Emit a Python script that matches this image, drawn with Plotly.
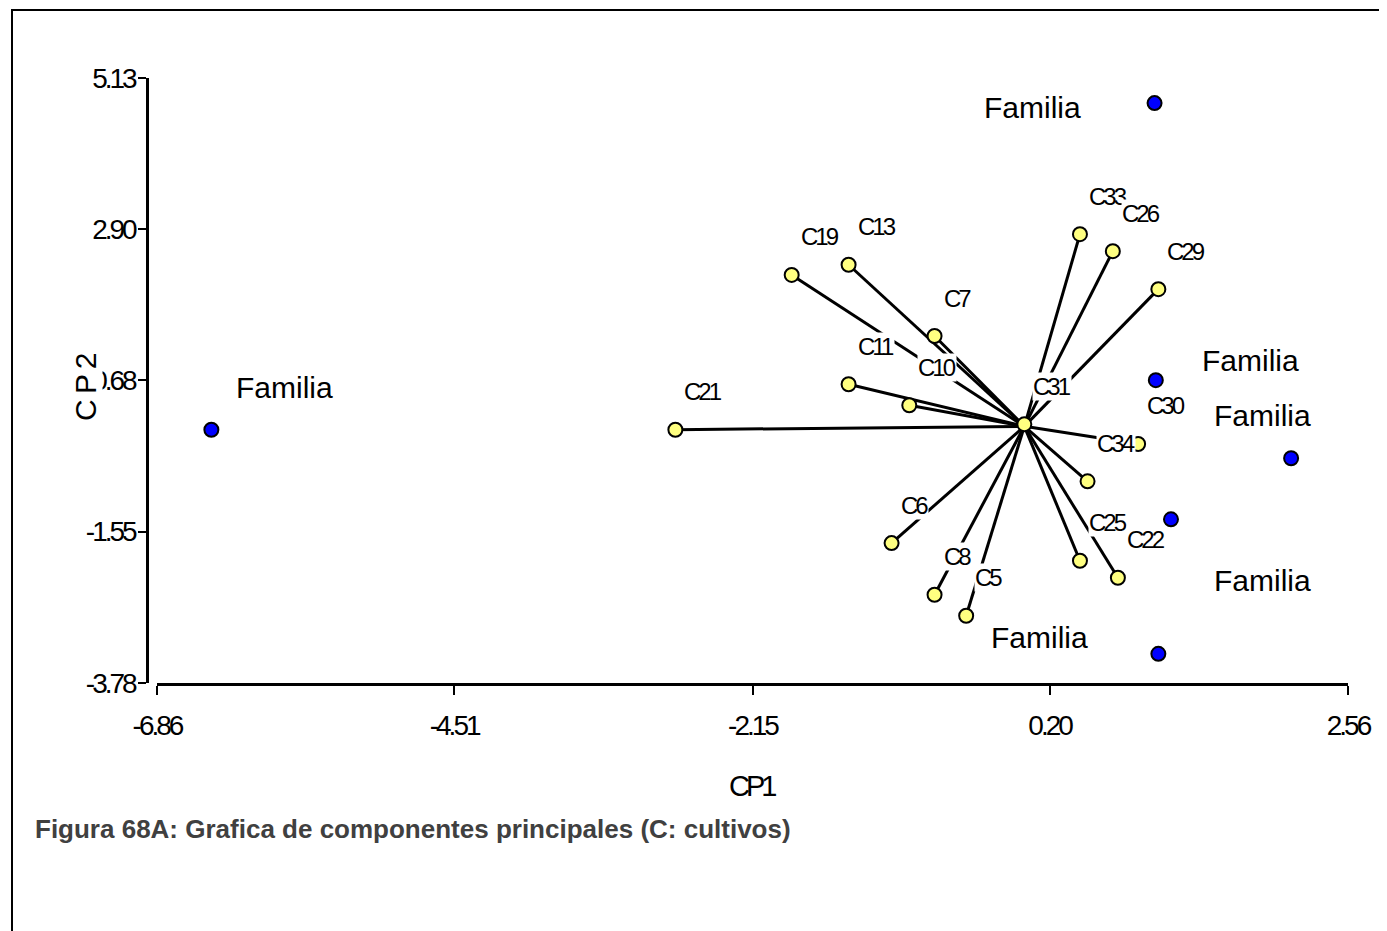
import plotly.graph_objects as go

# ---- data ----
cult_names = ["C21", "C19", "C13", "C7", "C11", "C10", "C31", "C33", "C26", "C29",
              "C30", "C34", "C25", "C22", "C6", "C8", "C5"]
cult_cp1 = [-2.76, -1.84, -1.39, -0.71, -1.39, -0.91, 0.00, 0.44, 0.70, 1.06,
            0.90, 0.50, 0.44, 0.74, -1.05, -0.71, -0.46]
cult_cp2 = [-0.05, 2.23, 2.38, 1.33, 0.62, 0.31, 0.03, 2.83, 2.58, 2.02,
            -0.26, -0.81, -1.98, -2.23, -1.72, -2.48, -2.79]

fam_names = ["Familia", "Familia", "Familia", "Familia", "Familia", "Familia"]
fam_cp1 = [-6.43, 1.03, 1.04, 2.11, 1.16, 1.06]
fam_cp2 = [-0.05, 4.76, 0.68, -0.47, -1.37, -3.35]

x_ticks = [-6.86, -4.51, -2.15, 0.20, 2.56]
y_ticks = [-3.78, -1.55, 0.68, 2.90, 5.13]

# ---- label placement (pixel shifts) ----
fam_label_shift = [(24, 42), (-172, -4), (45, 20), (-78, 43), (42, -61), (-168, 16)]
cult_label_shift = (8, 38)

# page has an 8px body margin; figure is sized so the plot lands where the reference has it
OFF = 8
W, H = 1387 - OFF, 931 - OFF
ML, MR, MT, MB = 147 - OFF, 39, 78 - OFF, 248
PW = W - ML - MR
PH = H - MT - MB


def px(x):  # reference page pixel -> paper fraction
    return (x - OFF - ML) / PW


def py(y):
    return (H - MB - (y - OFF)) / PH


def narrow(t, ls):
    # tighter letter spacing to mimic the condensed font of the original
    return f'<span style="letter-spacing:{ls}px">{t}</span>'


ARIAL = "Liberation Sans, Arial, sans-serif"

fig = go.Figure()

# vectors from origin
lx, ly = [], []
for x, y in zip(cult_cp1, cult_cp2):
    lx += [0, x, None]
    ly += [0, y, None]
fig.add_trace(go.Scatter(x=lx, y=ly, mode="lines",
                         line=dict(color="black", width=3),
                         hoverinfo="skip"))

fig.add_trace(go.Scatter(x=cult_cp1, y=cult_cp2, mode="markers",
                         marker=dict(symbol="circle", size=14, color="#ffff80",
                                     line=dict(color="black", width=2)),
                         text=cult_names))
fig.add_trace(go.Scatter(x=fam_cp1, y=fam_cp2, mode="markers",
                         marker=dict(symbol="circle", size=14, color="#0000ff",
                                     line=dict(color="black", width=2)),
                         text=fam_names))

annotations = []
for name, x, y in zip(cult_names, cult_cp1, cult_cp2):
    annotations.append(dict(x=x, y=y, xref="x", yref="y", text=narrow(name, -3),
                            showarrow=False, xanchor="left", yanchor="middle",
                            xshift=cult_label_shift[0], yshift=cult_label_shift[1],
                            font=dict(family=ARIAL, size=24, color="black"),
                            bgcolor="white", borderpad=0))
for name, x, y, (sx, sy) in zip(fam_names, fam_cp1, fam_cp2, fam_label_shift):
    annotations.append(dict(x=x, y=y, xref="x", yref="y", text=name, showarrow=False,
                            xanchor="left", yanchor="middle", xshift=sx, yshift=sy,
                            font=dict(family=ARIAL, size=30, color="black"),
                            bgcolor="white", borderpad=0))

# axis titles
annotations.append(dict(x=px(752), y=py(786), xref="paper", yref="paper",
                        text=narrow("CP1", -4),
                        showarrow=False, xanchor="center", yanchor="middle",
                        font=dict(family=ARIAL, size=29, color="black")))
annotations.append(dict(x=px(85), y=py(387), xref="paper", yref="paper",
                        text=narrow("C P 2", -1.5),
                        showarrow=False, xanchor="center", yanchor="middle", textangle=-90,
                        font=dict(family=ARIAL, size=30, color="black"),
                        bgcolor="white", borderpad=0))
# caption
annotations.append(dict(x=px(33), y=py(829), xref="paper", yref="paper",
                        text="<b>Figura 68A: Grafica de componentes principales (C: cultivos)</b>",
                        showarrow=False, xanchor="left", yanchor="middle",
                        font=dict(family=ARIAL, size=26, color="#404040")))

shapes = [dict(type="rect", xref="paper", yref="paper",
               x0=px(12), x1=px(1410), y0=py(980), y1=py(10),
               line=dict(color="black", width=2), fillcolor="rgba(0,0,0,0)")]

fig.update_layout(
    width=W, height=H,
    margin=dict(l=ML, r=MR, t=MT, b=MB, pad=0),
    paper_bgcolor="white", plot_bgcolor="white",
    showlegend=False,
    xaxis=dict(domain=[10 / PW, 1], anchor="y", range=[x_ticks[0], x_ticks[-1]],
               tickmode="array", tickvals=x_ticks,
               ticktext=[narrow(f"{v:.2f}", -3) for v in x_ticks],
               showgrid=False, zeroline=False, showline=True, linecolor="black", linewidth=2.5,
               ticks="outside", ticklen=9, tickwidth=2, tickcolor="black",
               ticklabelstandoff=7,
               tickfont=dict(family=ARIAL, size=28, color="black")),
    yaxis=dict(anchor="free", position=0, range=[y_ticks[0], y_ticks[-1]],
               tickmode="array", tickvals=y_ticks,
               ticktext=[narrow(f"{v:.2f}", -3) for v in y_ticks],
               showgrid=False, zeroline=False, showline=True, linecolor="black", linewidth=2.5,
               ticks="outside", ticklen=8, tickwidth=2, tickcolor="black",
               ticklabelstandoff=-2,
               tickfont=dict(family=ARIAL, size=28, color="black")),
    annotations=annotations,
    shapes=shapes,
)

fig.write_html("out.html")
